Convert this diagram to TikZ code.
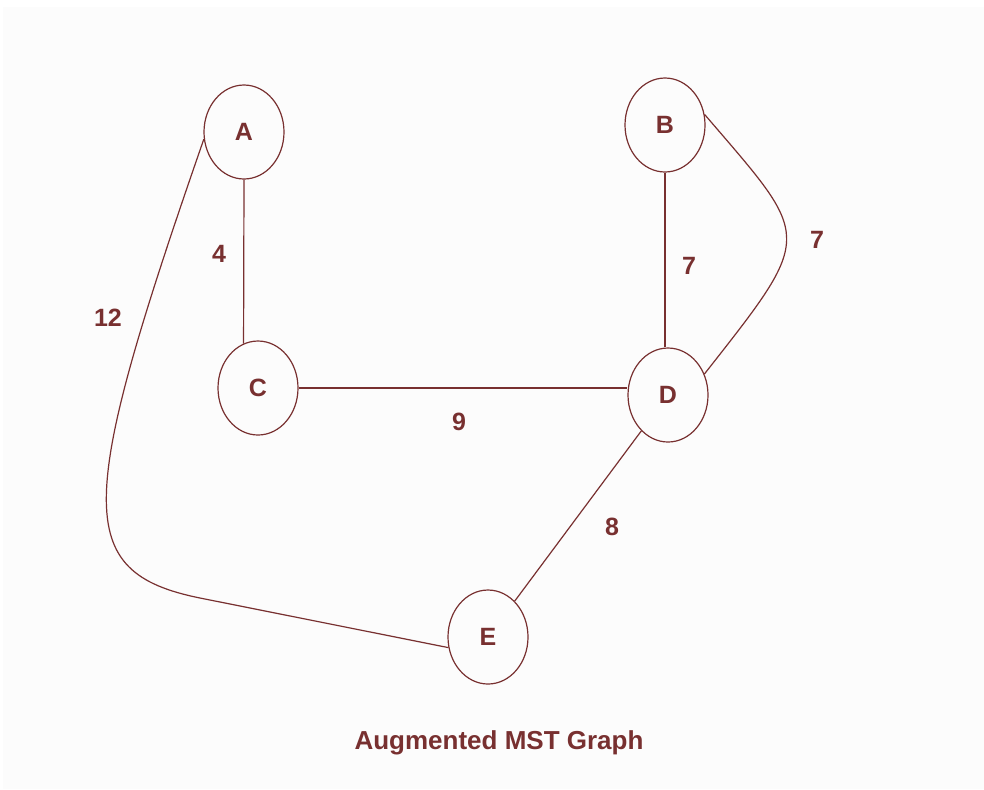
\documentclass[tikz,border=0pt]{standalone}
\usepackage{fontspec}
\setmainfont{Liberation Sans}
\usetikzlibrary{shapes.geometric}
\definecolor{maroon}{RGB}{120,48,48}
\definecolor{paper}{RGB}{252,252,252}
\tikzset{
vertex/.style={draw=maroon, line width=0.6pt, ellipse, minimum width=40pt, minimum height=47pt, inner sep=0pt, text=maroon, font=\bfseries\fontsize{12.5}{14}\selectfont},
weight/.style={text=maroon, font=\bfseries\fontsize{12.5}{14}\selectfont},
edge/.style={draw=maroon, line width=0.6pt}
}

\begin{document}
\begin{tikzpicture}[x=0.5pt,y=-0.5pt]
\useasboundingbox (0,0) rectangle (984,789);
\fill[paper] (3,7) rectangle (984,789);
\node[vertex] (A) at (244,132) {A};
\node[vertex] (B) at (665,125) {B};
\node[vertex] (C) at (258,388) {C};
\node[vertex] (D) at (668,395) {D};
\node[vertex] (E) at (488,637) {E};
\coordinate (bend) at (200,598);
\draw[edge] (A.south) -- (C.108);
\draw[edge] (B.south) -- (B.south |- D.north);
\draw[edge] (C.east) -- (C.east -| D.west);
\draw[edge] (D) -- (E);
\draw[edge] (B.15) .. controls (812,240) and (816,232) .. (D.30);
\draw[edge] (A.190) .. controls (77,504) and (72,572) .. (bend) -- (E.195);
\node[weight] (wAC) at (219,254) {4};
\node[weight] (wAE) at (108,318) {12};
\node[weight] (wBD) at (689,266) {7};
\node[weight] (wBDb) at (817,240) {7};
\node[weight] (wCD) at (459,422) {9};
\node[weight] (wDE) at (612,527) {8};
\node[weight, font=\bfseries\fontsize{13}{15}\selectfont] (title) at (499,743) {Augmented MST Graph};
\end{tikzpicture}
\end{document}
